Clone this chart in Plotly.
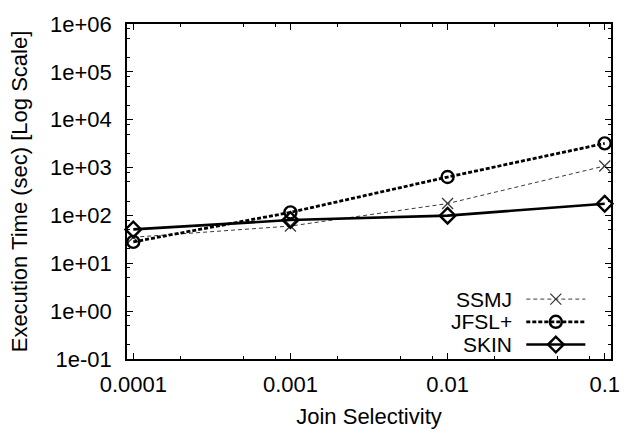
import plotly.graph_objects as go

# Join selectivity (x) and execution time in seconds for each method
selectivity = [0.0001, 0.001, 0.01, 0.1]
ssmj = [35, 60, 177, 1080]
jfsl_plus = [28, 116, 635, 3200]
skin = [51, 80, 99, 176]

y_tick_vals = [1e-1, 1e0, 1e1, 1e2, 1e3, 1e4, 1e5, 1e6]
y_tick_text = ["1e-01", "1e+00", "1e+01", "1e+02", "1e+03", "1e+04", "1e+05", "1e+06"]
x_tick_vals = [0.0001, 0.001, 0.01, 0.1]
x_tick_text = ["0.0001", "0.001", "0.01", "0.1"]

FONT = "Liberation Sans, Arial, Helvetica, sans-serif"
FS = 22
KEY_FS = 21

series = [
    dict(name="SSMJ", y=ssmj, color="#3a3a3a", width=1, dash="4px,3px",
         symbol="x-thin-open", msize=11, mline=1.3),
    dict(name="JFSL+", y=jfsl_plus, color="black", width=2.8, dash="4px,2px",
         symbol="circle-open", msize=12, mline=2.4),
    dict(name="SKIN", y=skin, color="black", width=2.6, dash="solid",
         symbol="diamond-open", msize=12, mline=2.4),
]

fig = go.Figure()
for s in series:
    fig.add_trace(go.Scatter(
        x=selectivity, y=s["y"], mode="lines+markers", name=s["name"],
        line=dict(color=s["color"], width=s["width"], dash=s["dash"]),
        marker=dict(symbol=s["symbol"], size=s["msize"], color=s["color"],
                    line=dict(width=s["mline"], color=s["color"])),
        showlegend=False, cliponaxis=False,
    ))

# Key in the lower right: label text, then a short sample of line + marker
key_rows_y = [0.1788, 0.111, 0.0432]
key_x0, key_xm, key_x1 = 0.825, 0.886, 0.947
key_text_x = 0.797
for s, ky in zip(series, key_rows_y):
    fig.add_trace(go.Scatter(
        x=[key_x0, key_x1], y=[ky, ky], mode="lines", xaxis="x2", yaxis="y2",
        line=dict(color=s["color"], width=s["width"], dash=s["dash"]),
        showlegend=False, hoverinfo="skip",
    ))
    fig.add_trace(go.Scatter(
        x=[key_xm], y=[ky], mode="markers", xaxis="x2", yaxis="y2",
        marker=dict(symbol=s["symbol"], size=s["msize"], color=s["color"],
                    line=dict(width=s["mline"], color=s["color"])),
        showlegend=False, hoverinfo="skip",
    ))
    fig.add_annotation(x=key_text_x, y=ky, xref="paper", yref="paper",
                       text=s["name"], showarrow=False, xanchor="right",
                       yanchor="middle", borderpad=0,
                       font=dict(family=FONT, size=KEY_FS, color="black"))

axis_common = dict(
    type="log", showgrid=False, zeroline=False, showline=True, mirror="ticks",
    linecolor="black", linewidth=1.5, ticks="inside", ticklen=6, tickwidth=1,
    tickcolor="black", tickfont=dict(family=FONT, size=FS, color="black"),
)

minor_x = [m * 10 ** e for e in range(-4, 0) for m in (2, 5, 8)]
minor_y = [m * 10 ** e for e in range(-1, 6) for m in (2, 5, 8)]

fig.update_layout(
    width=632, height=437,
    margin=dict(l=127, r=13, t=15, b=73),
    paper_bgcolor="white", plot_bgcolor="white",
    font=dict(family=FONT, size=FS, color="black"),
    xaxis=dict(
        **axis_common,
        range=[-4.04, -0.96],
        tickvals=x_tick_vals, ticktext=x_tick_text,
        minor=dict(tickvals=minor_x, ticks="inside", ticklen=3, tickcolor="black", tickwidth=1),
        title=dict(text="Join Selectivity", standoff=12, font=dict(family=FONT, size=FS)),
        ticklabelstandoff=5,
    ),
    yaxis=dict(
        **axis_common,
        range=[-1, 6],
        tickvals=y_tick_vals, ticktext=y_tick_text,
        minor=dict(tickvals=minor_y, ticks="inside", ticklen=3, tickcolor="black", tickwidth=1),
        title=dict(text="Execution Time (sec) [Log Scale]", standoff=16,
                   font=dict(family=FONT, size=FS)),
        ticklabelstandoff=9,
    ),
    xaxis2=dict(overlaying="x", range=[0, 1], visible=False),
    yaxis2=dict(overlaying="y", range=[0, 1], visible=False),
)

fig.write_html("out.html")
